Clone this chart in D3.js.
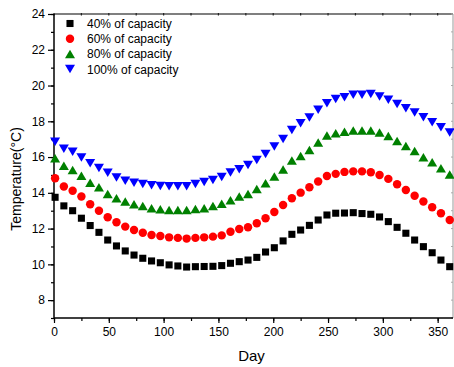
<!DOCTYPE html>
<html>
<head>
<meta charset="utf-8">
<script src="https://cdn.jsdelivr.net/npm/d3@7"></script>
<style>
html,body{margin:0;padding:0;background:#fff;}
svg{display:block;font-family:"Liberation Sans",Arial,sans-serif;}
</style>
</head>
<body>
<svg id="chart" width="454" height="367"></svg>
<script>
const days = d3.range(46).map(i => 1 + 8 * i);
const seriesNames = ["40% of capacity", "60% of capacity", "80% of capacity", "100% of capacity"];
const cap40 = [13.75,13.27,13.0,12.58,12.17,11.79,11.36,11.03,10.75,10.52,10.34,10.19,10.09,9.97,9.91,9.85,9.87,9.88,9.89,9.93,10.06,10.15,10.24,10.39,10.69,10.93,11.31,11.68,11.92,12.18,12.48,12.76,12.86,12.87,12.89,12.84,12.8,12.65,12.39,12.07,11.74,11.36,10.99,10.65,10.24,9.87];
const cap60 = [14.82,14.35,14.12,13.79,13.36,13.0,12.63,12.35,12.11,11.92,11.77,11.64,11.59,11.51,11.48,11.44,11.48,11.51,11.55,11.62,11.82,11.98,12.07,12.3,12.58,12.93,13.32,13.7,14.01,14.31,14.63,14.94,15.06,15.17,15.2,15.2,15.15,15.0,14.78,14.48,14.16,13.84,13.51,13.19,12.86,12.48];
const cap80 = [15.93,15.52,15.28,14.95,14.57,14.31,13.94,13.7,13.51,13.36,13.27,13.14,13.08,13.04,13.04,13.04,13.1,13.14,13.27,13.39,13.58,13.79,13.94,14.22,14.53,14.91,15.3,15.81,16.06,16.4,16.81,17.2,17.33,17.42,17.48,17.48,17.48,17.37,17.18,16.9,16.62,16.34,15.99,15.71,15.37,15.03];
const cap100 = [16.86,16.46,16.3,15.98,15.66,15.39,15.12,14.86,14.68,14.57,14.49,14.42,14.38,14.37,14.37,14.37,14.5,14.61,14.72,14.89,15.13,15.32,15.56,15.84,16.17,16.59,17.01,17.52,17.89,18.21,18.64,19.01,19.24,19.35,19.48,19.48,19.53,19.38,19.2,18.97,18.73,18.49,18.23,17.95,17.67,17.37];
const xTicks = [0,50,100,150,200,250,300,350];
const yTicks = [8,10,12,14,16,18,20,22,24];
const xLabel = "Day";
const yLabel = "Temperature(°C)";

const colors = ["#000000","#ff0000","#008000","#0000ff"];
const shapes = ["square","circle","triangleUp","triangleDown"];
const allSeries = [cap40, cap60, cap80, cap100];

const svg = d3.select("#chart");
const pL = 54, pR = 453, pT = 14, pB = 318;
const x = d3.scaleLinear().domain([0, 364]).range([pL, pR]);
const y = d3.scaleLinear().domain([7, 24]).range([pB, pT]);

// frame: top & right
svg.append("line").attr("x1", pL).attr("x2", pR).attr("y1", pT).attr("y2", pT)
  .attr("stroke", "#555").attr("stroke-width", 1.5);
svg.append("line").attr("x1", pR).attr("x2", pR).attr("y1", pT).attr("y2", pB)
  .attr("stroke", "#999").attr("stroke-width", 1);
const xMinor = d3.range(0, 365, 25);
svg.selectAll(".ttick").data(xMinor).enter().append("line")
  .attr("x1", d => x(d)).attr("x2", d => x(d)).attr("y1", pT - 1).attr("y2", pT + 1.5)
  .attr("stroke", "#222").attr("stroke-width", 1.2);
const yMinor = d3.range(7, 24.01, 1);
svg.selectAll(".rtick").data(yMinor).enter().append("line")
  .attr("x1", pR - 2).attr("x2", pR).attr("y1", d => y(d)).attr("y2", d => y(d))
  .attr("stroke", "#aaa").attr("stroke-width", 1);

// bottom axis
const gx = svg.append("g").attr("transform", `translate(0,${pB})`);
gx.call(d3.axisBottom(x).tickValues(xMinor).tickSize(3).tickFormat(""));
gx.call(g => g.selectAll(".domain").remove());
const gx2 = svg.append("g").attr("transform", `translate(0,${pB})`);
gx2.call(d3.axisBottom(x).tickValues(xTicks).tickSize(5).tickPadding(4).tickSizeOuter(0));
[gx, gx2].forEach(g => {
  g.selectAll("line").attr("stroke", "#000").attr("stroke-width", 1.2);
  g.selectAll("text").attr("font-size", 12).attr("fill", "#000").attr("font-family", "Liberation Sans, Arial, sans-serif");
});
gx2.select(".domain").attr("stroke", "#000").attr("stroke-width", 1.5).attr("d", `M${pL},0H${pR}`);

// left axis
const gy = svg.append("g").attr("transform", `translate(${pL},0)`);
gy.call(d3.axisLeft(y).tickValues(yMinor).tickSize(3).tickFormat(""));
gy.call(g => g.selectAll(".domain").remove());
const gy2 = svg.append("g").attr("transform", `translate(${pL},0)`);
gy2.call(d3.axisLeft(y).tickValues(yTicks).tickSize(6).tickPadding(3).tickSizeOuter(0));
[gy, gy2].forEach(g => {
  g.selectAll("line").attr("stroke", "#000").attr("stroke-width", 1.2);
  g.selectAll("text").attr("font-size", 12).attr("fill", "#000").attr("font-family", "Liberation Sans, Arial, sans-serif");
});
gy2.select(".domain").attr("stroke", "#000").attr("stroke-width", 1.5).attr("d", `M0,${pT}V${pB}`);

// axis labels
svg.append("text").attr("x", (pL + pR) / 2 - 2).attr("y", 361).attr("text-anchor", "middle")
  .attr("font-size", 15).text(xLabel);
svg.append("text").attr("transform", `translate(21,179) rotate(-90)`)
  .attr("text-anchor", "middle").attr("font-size", 14).text(yLabel);

function symbolFor(s) {
  if (s === "square") return d3.symbol().type(d3.symbolSquare).size(50)();
  if (s === "circle") return d3.symbol().type(d3.symbolCircle).size(56)();
  const h = 8.5, w = 10;
  if (s === "triangleUp") return `M0,${-h/2}L${w/2},${h/2}L${-w/2},${h/2}Z`;
  return `M0,${h/2}L${w/2},${-h/2}L${-w/2},${-h/2}Z`;
}

const plot = svg.append("g");
allSeries.forEach((vals, si) => {
  plot.selectAll(".p" + si).data(vals).enter().append("path")
    .attr("d", symbolFor(shapes[si]))
    .attr("transform", (v, i) => `translate(${x(days[i])},${y(v)})`)
    .attr("fill", colors[si]);
});

// legend
const leg = svg.append("g");
seriesNames.forEach((name, i) => {
  const ly = 23.5 + i * 15.2;
  leg.append("path").attr("d", symbolFor(shapes[i])).attr("transform", `translate(70,${ly})`).attr("fill", colors[i]);
  leg.append("text").attr("x", 87).attr("y", ly + 4.5).attr("font-size", 12).attr("fill", "#000").text(name);
});
</script>
</body>
</html>
